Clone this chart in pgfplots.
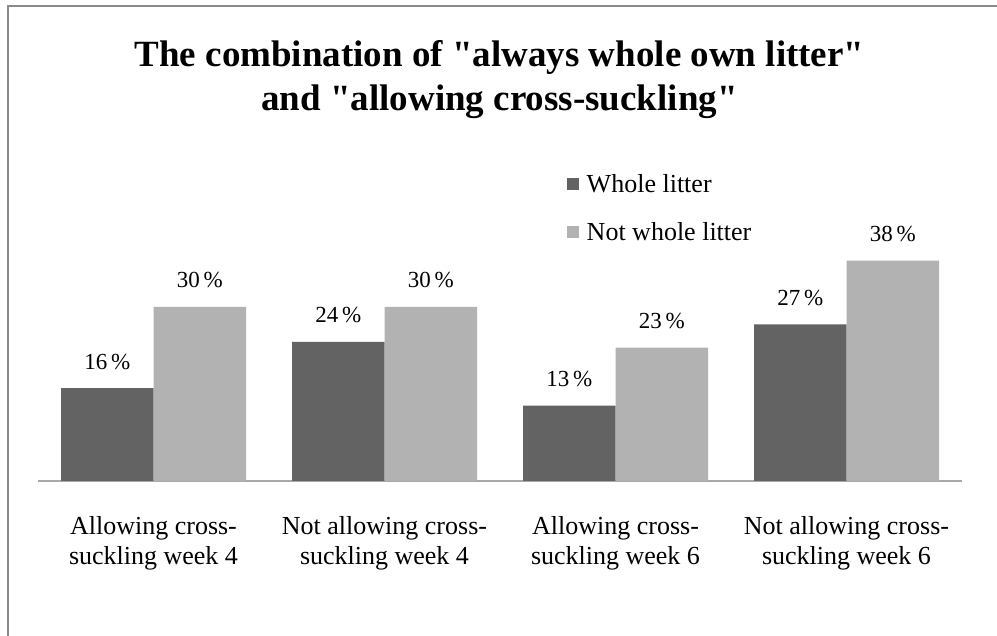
\documentclass[border=0pt]{standalone}
\usepackage{fontspec}
\setmainfont{Liberation Serif}
\usepackage{pgfplots}
\pgfplotsset{compat=1.18}
\definecolor{darkbar}{HTML}{636363}
\definecolor{lightbar}{HTML}{B2B2B2}
\definecolor{frame}{HTML}{8A8A8A}
\definecolor{axisline}{HTML}{A8A8A8}
\begin{document}
\begin{tikzpicture}[x=1pt,y=1pt]
\useasboundingbox (0,0) rectangle (997,636);
\draw[frame, line width=2pt] (7.5,-5) -- (7.5,629.5) -- (1005,629.5);
\node[anchor=base, align=center, font=\fontsize{37}{44}\selectfont\bfseries, inner sep=0pt] at (499.5,525) {The combination of \textquotedbl always whole own litter\textquotedbl\\and \textquotedbl allowing cross-suckling\textquotedbl};
\begin{axis}[
  at={(38pt,155pt)}, anchor=south west,
  scale only axis, width=924pt, height=232pt,
  ymin=0, ymax=40, xmin=-0.5, xmax=3.5,
  ybar=0pt, bar width=92.5pt,
  axis x line*=bottom, axis y line=none,
  x axis line style={axisline, line width=1.2pt, -},
  xtick=data, major tick length=0pt,
  xticklabels={{Allowing cross-\\suckling week 4},{Not allowing cross-\\suckling week 4},{Allowing cross-\\suckling week 6},{Not allowing cross-\\suckling week 6}},
  xticklabel style={align=center, font=\fontsize{26}{30}\selectfont, anchor=north, inner sep=0pt, yshift=-35pt},
  /pgf/number format/assume math mode=true,
  nodes near coords={\pgfmathprintnumber{\pgfplotspointmeta}\,\%},
  every node near coord/.append style={font=\fontsize{23}{27}\selectfont, anchor=base, inner sep=0pt, yshift=19pt, black},
  legend style={at={(0.572,1.33)}, anchor=north west, draw=none, fill=none, font=\fontsize{26}{28}\selectfont, row sep=24pt, column sep=6pt, inner sep=0pt},
  legend cell align=left,
  legend image code/.code={\fill[#1] (0pt,-6pt) rectangle (12pt,6pt);},
]
\addplot[fill=darkbar, draw=none] coordinates {(0,16) (1,24) (2,13) (3,27)};
\addplot[fill=lightbar, draw=none] coordinates {(0,30) (1,30) (2,23) (3,38)};
\legend{Whole litter, Not whole litter}
\end{axis}
\end{tikzpicture}
\end{document}
